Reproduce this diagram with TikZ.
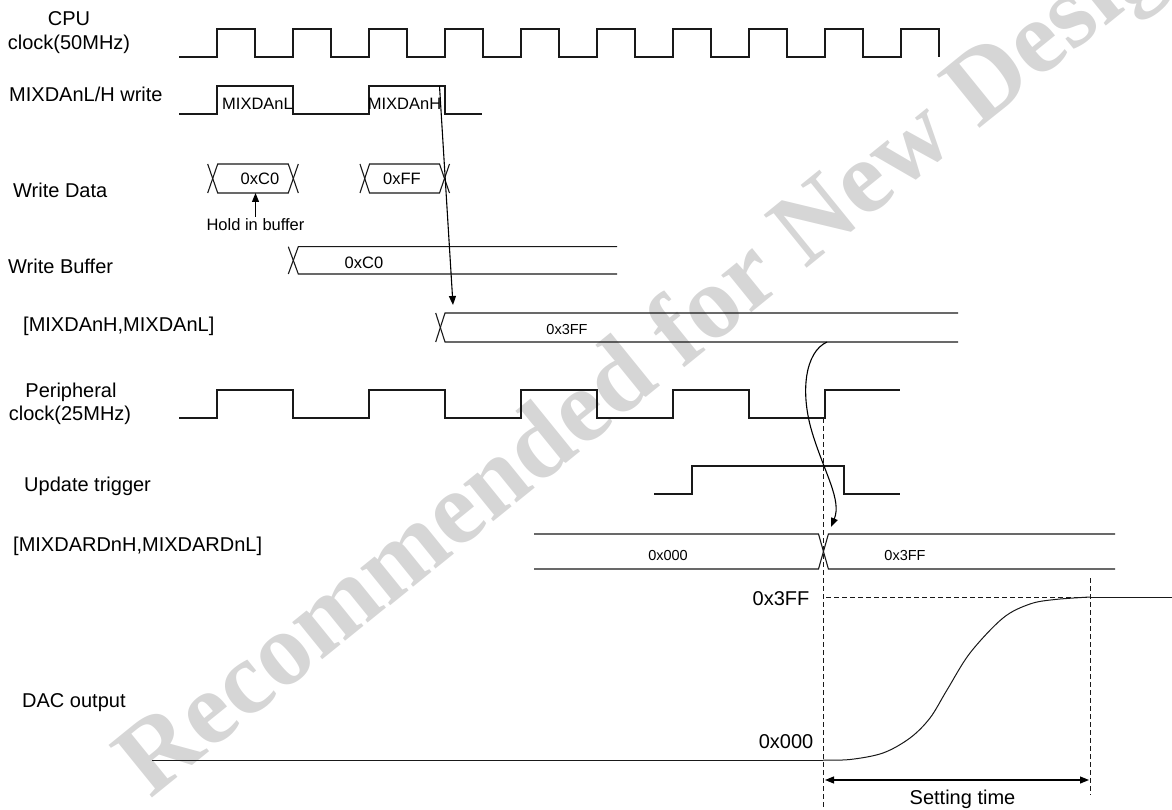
\documentclass[tikz,border=0pt]{standalone}
\usepackage{fontspec}
\setmainfont{Liberation Sans}
\newfontfamily\wmfont{Liberation Serif}
\usetikzlibrary{arrows.meta}
\begin{document}
\begin{tikzpicture}[x=1pt,y=-1pt,
  sig/.style={line width=1.1pt,black!90,line join=miter},
  dsh/.style={line width=0.9pt,black!90,dash pattern=on 5pt off 3pt},
  arr/.style={line width=1.1pt,black,-{Triangle[length=9pt,width=7pt]}},
  big/.style={font=\fontsize{20}{24}\selectfont,inner sep=0pt},
  mid/.style={font=\fontsize{16.5}{20}\selectfont,inner sep=0pt,anchor=base},
  sml/.style={font=\fontsize{14.5}{17}\selectfont,inner sep=0pt,anchor=base},
  wm/.style={font=\wmfont\bfseries\fontsize{104}{104}\selectfont,text=black!16,inner sep=0pt}
]
\useasboundingbox (0,0) rectangle (1172,810);
% watermark
\node[wm,rotate=39,anchor=base west] (wmk) at (150,800) {Recommended for New Design};

% left labels
\node[big,anchor=base] (l1a) at (69,26) {CPU};
\node[big,anchor=base] (l1b) at (69,50) {clock(50MHz)};
\node[big,anchor=base west] (l2) at (9,102) {MIXDAnL/H write};
\node[big,anchor=base west] (l3) at (13,198) {Write Data};
\node[big,anchor=base west] (l4) at (8,273) {Write Buffer};
\node[big,anchor=base west] (l5) at (23,331) {[MIXDAnH,MIXDAnL]};
\node[big,anchor=base] (l6a) at (71,397) {Peripheral};
\node[big,anchor=base] (l6b) at (70,420) {clock(25MHz)};
\node[big,anchor=base west] (l7) at (24,491) {Update trigger};
\node[big,anchor=base west] (l8) at (13,551) {[MIXDARDnH,MIXDARDnL]};
\node[big,anchor=base west] (l9) at (22,707) {DAC output};

% CPU clock
\draw[sig] (179,57) foreach \k in {0,...,9} { -- ({217+76*\k},57) -- ({217+76*\k},29) -- ({255+76*\k},29) -- ({255+76*\k},57) };

% MIXDAnL/H write
\draw[sig] (179,114) -- (217,114) -- (217,86) -- (293,86) -- (293,114) -- (369,114) -- (369,86) -- (445,86) -- (445,114) -- (482,114);
\node[mid] (wl) at (257.5,110) {MIXDAnL};
\node[mid] (wh) at (404.5,110) {MIXDAnH};

% Write data
\draw[sig] (207.7,164) -- (217.7,193) -- (288.3,193) -- (298.3,164);
\draw[sig] (207.7,193) -- (217.7,164) -- (288.3,164) -- (298.3,193);
\draw[sig] (360,164) -- (369.5,193) -- (439.5,193) -- (449.5,164);
\draw[sig] (360,193) -- (369.5,164) -- (439.5,164) -- (449.5,193);
\node[mid] (d1) at (260,185) {0xC0};
\node[mid] (d2) at (402,185) {0xFF};
\coordinate (d1b) at (255.5,193);
\node[mid] (hold) at (255.5,231) {Hold in buffer};
\draw[arr] (255.5,217) -- (d1b);

% Write buffer
\draw[sig] (288.3,246.7) -- (298.3,274) -- (617,274);
\draw[sig] (288.3,274) -- (298.3,246.7) -- (617,246.7);
\node[mid] (wb) at (364,269) {0xC0};

% MIXDAnH,MIXDAnL
\draw[sig] (435.7,313) -- (445,342) -- (958,342);
\draw[sig] (435.7,342) -- (445,313) -- (958,313);
\node[sml] (r1) at (567,334) {0x3FF};
\coordinate (wstart) at (439.5,86);
\coordinate (wend) at (453,305);
\draw[arr] (wstart) -- (wend);

% Peripheral clock
\draw[sig] (179,418) foreach \k in {0,...,3} { -- ({217+152*\k},418) -- ({217+152*\k},390) -- ({293+152*\k},390) -- ({293+152*\k},418) } -- (825,418) -- (825,390) -- (900,390);

% Update trigger
\draw[sig] (654,494) -- (692,494) -- (692,466) -- (844,466) -- (844,494) -- (900,494);

% MIXDARD
\draw[sig] (534,534) -- (818.5,534) -- (828.4,569) -- (1115,569);
\draw[sig] (534,569) -- (818.5,569) -- (828.4,534) -- (1115,534);
\node[sml] (r2) at (668,560) {0x000};
\node[sml] (r3) at (905,560) {0x3FF};

% curved arrow
\coordinate (cstart) at (827,342);
\coordinate (cend) at (831,527);
\draw[arr] (cstart) .. controls (805,352) and (800,392) .. (812,432) .. controls (824,472) and (842,500) .. (cend);

% dashed guides
\draw[dsh] (823,418) -- (823,810);
\draw[dsh] (1090.5,578) -- (1090.5,795);
\draw[dsh] (826,597) -- (1090,597);

% DAC
\draw[sig,line width=1pt] (152,760) -- (823,760);
\draw[sig,line width=1pt] plot[smooth,tension=0.55] coordinates {(823,760) (850,759.5) (883,753) (910,738) (930,718) (947,690) (970,653) (1003,618) (1030,604) (1055,599.5) (1090,597)};
\draw[sig,line width=1pt] (1090,597) -- (1172,597);
\node[big,anchor=base] (v1) at (781,605) {0x3FF};
\node[big,anchor=base] (v0) at (786,748) {0x000};
\coordinate (sa) at (825,780);
\coordinate (sb) at (1089,780);
\draw[line width=1.1pt,{Triangle[length=9pt,width=7pt]}-{Triangle[length=9pt,width=7pt]}] (sa) -- (sb);
\node[big,anchor=base] (st) at (962.5,804) {Setting time};
\end{tikzpicture}
\end{document}
